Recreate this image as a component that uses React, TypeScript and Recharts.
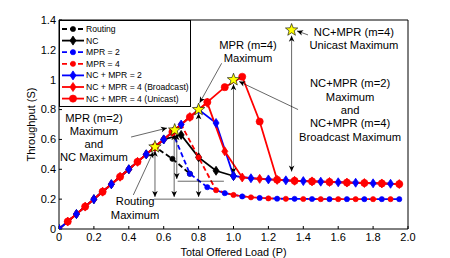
import React from "react";
import { ComposedChart, Line, Scatter, XAxis, YAxis, ReferenceLine, ReferenceDot } from "recharts";

// offered load grids (markers alternate between the two)
const loadEven = [0, 0.1, 0.2, 0.3, 0.4, 0.5, 0.6, 0.7, 0.8, 0.9, 1.0, 1.1, 1.2, 1.3, 1.4, 1.5, 1.6, 1.7, 1.8, 1.9];
const loadOdd = [0.05, 0.15, 0.25, 0.35, 0.45, 0.55, 0.65, 0.75, 0.85, 0.95, 1.05, 1.15, 1.25, 1.35, 1.45, 1.55, 1.65, 1.75, 1.85, 1.95];

// throughput per scheme
const routing = [0.05, 0.15, 0.25, 0.35, 0.45, 0.55, 0.47, 0.37];
const nc = [0, 0.1, 0.2, 0.3, 0.4, 0.5, 0.6, 0.63, 0.48, 0.39, 0.355];
const mpr2 = [0.05, 0.15, 0.25, 0.35, 0.45, 0.55, 0.65, 0.37, 0.28, 0.24, 0.218, 0.208, 0.203, 0.202, 0.201, 0.2, 0.2, 0.2, 0.2, 0.2];
const mpr4 = [0, 0.1, 0.2, 0.3, 0.4, 0.5, 0.6, 0.7, 0.48, 0.26, 0.228, 0.212, 0.205, 0.202, 0.201, 0.2, 0.2, 0.2, 0.2, 0.2];
const ncMpr2 = [0, 0.1, 0.2, 0.3, 0.4, 0.5, 0.6, 0.7, 0.8, 0.71, 0.355, 0.34, 0.332, 0.326, 0.321, 0.317, 0.313, 0.31, 0.306, 0.303];
const ncMpr4b = [0.05, 0.15, 0.25, 0.35, 0.45, 0.55, 0.65, 0.75, 0.845, 0.52, 0.345, 0.336, 0.329, 0.323, 0.319, 0.315, 0.311, 0.308, 0.305, 0.301];
const ncMpr4u = [0.05, 0.15, 0.25, 0.35, 0.45, 0.55, 0.65, 0.75, 0.85, 0.95, 1.02, 0.72, 0.33, 0.323, 0.319, 0.315, 0.311, 0.308, 0.305, 0.301];

// theoretical maxima (stars)
const maxLoad = [0.55, 0.663, 0.8, 1.0, 1.333];
const maxThroughput = [0.55, 0.663, 0.8, 1.0, 1.333];

const xTicks = [0, 0.2, 0.4, 0.6, 0.8, 1.0, 1.2, 1.4, 1.6, 1.8, 2.0];
const yTicks = [0, 0.2, 0.4, 0.6, 0.8, 1, 1.2, 1.4];

const zip = (xs: number[], ys: number[]) => ys.map((y, i) => ({ x: xs[i], y }));

const FONT = "'Liberation Sans', Arial, Helvetica, sans-serif";

type Marker = "circle" | "diamond";
const series = [
  { name: "Routing", data: zip(loadOdd, routing), color: "#000000", dashed: true, marker: "circle" as Marker, r: 2.6 },
  { name: "NC", data: zip(loadEven, nc), color: "#000000", dashed: false, marker: "diamond" as Marker, r: 3 },
  { name: "MPR = 2", data: zip(loadOdd, mpr2), color: "#0000ff", dashed: true, marker: "circle" as Marker, r: 2.6 },
  { name: "MPR = 4", data: zip(loadEven, mpr4), color: "#ff0000", dashed: true, marker: "circle" as Marker, r: 2.6 },
  { name: "NC + MPR = 2", data: zip(loadEven, ncMpr2), color: "#0000ff", dashed: false, marker: "diamond" as Marker, r: 3 },
  { name: "NC + MPR = 4 (Broadcast)", data: zip(loadOdd, ncMpr4b), color: "#ff0000", dashed: false, marker: "diamond" as Marker, r: 3 },
  { name: "NC + MPR = 4 (Unicast)", data: zip(loadOdd, ncMpr4u), color: "#ff0000", dashed: false, marker: "circle" as Marker, r: 3.6 },
];

const stars = zip(maxLoad, maxThroughput);

// annotation geometry in data units
const doubleArrows = [
  [0.55, 0.215, 0.55, 0.525],
  [0.66, 0.215, 0.66, 0.635],
  [0.675, 0.335, 0.675, 0.635],
  [0.8, 0.215, 0.8, 0.775],
  [1.0, 0.37, 1.0, 0.97],
  [1.333, 0.385, 1.333, 1.295],
];
const plainLines = [
  [0.545, 0.2, 0.925, 0.2],
  [0.68, 0.32, 0.945, 0.32],
];
const pointers = [
  [1.427, 1.3, 1.364, 1.327],
  [0.932, 1.11, 0.806, 0.845],
  [1.37, 0.8, 1.032, 0.988],
  [0.413, 0.616, 0.619, 0.676],
  [0.426, 0.228, 0.54, 0.516],
];
const notes = [
  { x: 1.69, y: 1.276, lines: ["NC+MPR (m=4)", "Unicast Maximum"] },
  { x: 1.083, y: 1.189, lines: ["MPR (m=4)", "Maximum"] },
  { x: 1.668, y: 0.797, lines: ["NC+MPR (m=2)", "Maximum", "and", "NC+MPR (m=4)", "Broadcast Maximum"] },
  { x: 0.2, y: 0.613, lines: ["MPR (m=2)", "Maximum", "and", "NC Maximum"] },
  { x: 0.436, y: 0.14, lines: ["Routing", "Maximum"] },
];

function drawMarker(kind: Marker, color: string, r: number, cx: number, cy: number, key?: any) {
  if (kind === "diamond") {
    const w = r, h = r * 1.5;
    return (
      <polygon key={key} points={`${cx},${cy - h} ${cx + w},${cy} ${cx},${cy + h} ${cx - w},${cy}`}
        fill={color} stroke={color} strokeWidth={0.8} />
    );
  }
  return <circle key={key} cx={cx} cy={cy} r={r} fill={color} stroke={color} strokeWidth={0.6} />;
}

const dotFor = (kind: Marker, color: string, r: number) => (p: any) => {
  if (p.cx == null || p.cy == null) return <g key={p.index} />;
  return drawMarker(kind, color, r, p.cx, p.cy, p.index);
};

function headPoints(x1: number, y1: number, x2: number, y2: number) {
  const a = Math.atan2(y2 - y1, x2 - x1);
  const L = 6, W = 2.8, N = 4.4;
  const c = Math.cos(a), s = Math.sin(a);
  const bx = x2 - L * c, by = y2 - L * s;
  const nx = x2 - N * c, ny = y2 - N * s;
  return `${x2},${y2} ${bx - s * W},${by + c * W} ${nx},${ny} ${bx + s * W},${by - c * W}`;
}

const arrowShape = (both: boolean) => (p: any) => {
  const { x1, y1, x2, y2 } = p;
  return (
    <g>
      <line x1={x1} y1={y1} x2={x2} y2={y2} stroke="#000" strokeWidth={0.6} />
      <polygon points={headPoints(x1, y1, x2, y2)} fill="#000" />
      {both && <polygon points={headPoints(x2, y2, x1, y1)} fill="#000" />}
    </g>
  );
};

const noteShape = (lines: string[]) => (p: any) => (
  <text x={p.cx} y={p.cy} textAnchor="middle" fontFamily={FONT} fontSize={11.2} fill="#000">
    {lines.map((t, i) => (
      <tspan key={i} x={p.cx} y={p.cy + (i - (lines.length - 1) / 2) * 13.3} dominantBaseline="central">{t}</tspan>
    ))}
  </text>
);

const starShape = (p: any) => {
  const { cx, cy } = p;
  if (cx == null) return <g />;
  const pts: string[] = [];
  for (let i = 0; i < 10; i++) {
    const rad = i % 2 === 0 ? 6.5 : 2.7;
    const a = -Math.PI / 2 + (i * Math.PI) / 5;
    pts.push(`${cx + rad * Math.cos(a)},${cy + rad * Math.sin(a)}`);
  }
  return <polygon points={pts.join(" ")} fill="#ffff00" stroke="#000" strokeWidth={0.6} />;
};

function LegendBox() {
  const rowH = 11.6;
  return (
    <div style={{ position: "absolute", left: 59, top: 20, width: 132, height: 87, border: "1px solid #000", boxSizing: "border-box", background: "#fff" }}>
      <svg width={130} height={85} style={{ display: "block" }}>
        {series.map((s, i) => {
          const y = 8 + i * rowH;
          return (
            <g key={s.name}>
              <line x1={2} x2={24} y1={y} y2={y} stroke={s.color} strokeWidth={1.8} strokeDasharray={s.dashed ? "5 3" : undefined} />
              {drawMarker(s.marker, s.color, s.r, 13, y)}
              <text x={26} y={y} dominantBaseline="central" fontFamily={FONT} fontSize={8.6} fill="#000">{s.name}</text>
            </g>
          );
        })}
      </svg>
    </div>
  );
}

export default function App() {
  const tickStyle = { fontFamily: FONT, fontSize: 11, fill: "#000" };
  return (
    <div style={{ position: "absolute", left: 0, top: 0, width: 450, height: 258, background: "#fff" }}>
      <ComposedChart width={450} height={258} margin={{ top: 19, right: 41, bottom: 0, left: 0 }}>
        <XAxis type="number" dataKey="x" domain={[0, 2]} ticks={xTicks} allowDataOverflow height={29}
          tickSize={-3} tickMargin={7.5} stroke="#000" tick={tickStyle}
          tickFormatter={(v: number) => (v === 0 ? "0" : v.toFixed(1))}
          label={{ value: "Total Offered Load (P)", position: "insideBottom", offset: 2.5, style: { fontFamily: FONT, fontSize: 10.8, fill: "#000" } }} />
        <XAxis xAxisId="t" orientation="top" type="number" domain={[0, 2]} ticks={xTicks} height={1}
          tickSize={-3} tick={false} stroke="#000" />
        <YAxis type="number" dataKey="y" domain={[0, 1.4]} ticks={yTicks} allowDataOverflow width={59}
          tickSize={-3} tickMargin={6} stroke="#000" tick={tickStyle}
          label={{ value: "Throughput (S)", angle: -90, position: "insideLeft", offset: 31, style: { textAnchor: "middle", fontFamily: FONT, fontSize: 11, fill: "#000" } }} />
        <YAxis yAxisId="r" orientation="right" type="number" domain={[0, 1.4]} ticks={yTicks} width={1}
          tickSize={-3} tick={false} stroke="#000" />

        {series.map((s) => (
          <Line key={s.name} name={s.name} data={s.data} dataKey="y" type="linear"
            stroke={s.color} strokeWidth={1.8} strokeDasharray={s.dashed ? "5 3" : undefined}
            dot={dotFor(s.marker, s.color, s.r)} activeDot={false} isAnimationActive={false} />
        ))}

        {plainLines.map((l, i) => (
          <ReferenceLine key={`h${i}`} segment={[{ x: l[0], y: l[1] }, { x: l[2], y: l[3] }]} stroke="#000" strokeWidth={0.6} />
        ))}
        {doubleArrows.map((l, i) => (
          <ReferenceLine key={`d${i}`} segment={[{ x: l[0], y: l[1] }, { x: l[2], y: l[3] }]} shape={arrowShape(true)} />
        ))}
        {pointers.map((l, i) => (
          <ReferenceLine key={`p${i}`} segment={[{ x: l[0], y: l[1] }, { x: l[2], y: l[3] }]} shape={arrowShape(false)} />
        ))}
        {notes.map((n, i) => (
          <ReferenceDot key={`n${i}`} x={n.x} y={n.y} r={1} shape={noteShape(n.lines)} />
        ))}

        <Scatter data={stars} dataKey="y" shape={starShape} isAnimationActive={false} />
      </ComposedChart>
      <LegendBox />
    </div>
  );
}
